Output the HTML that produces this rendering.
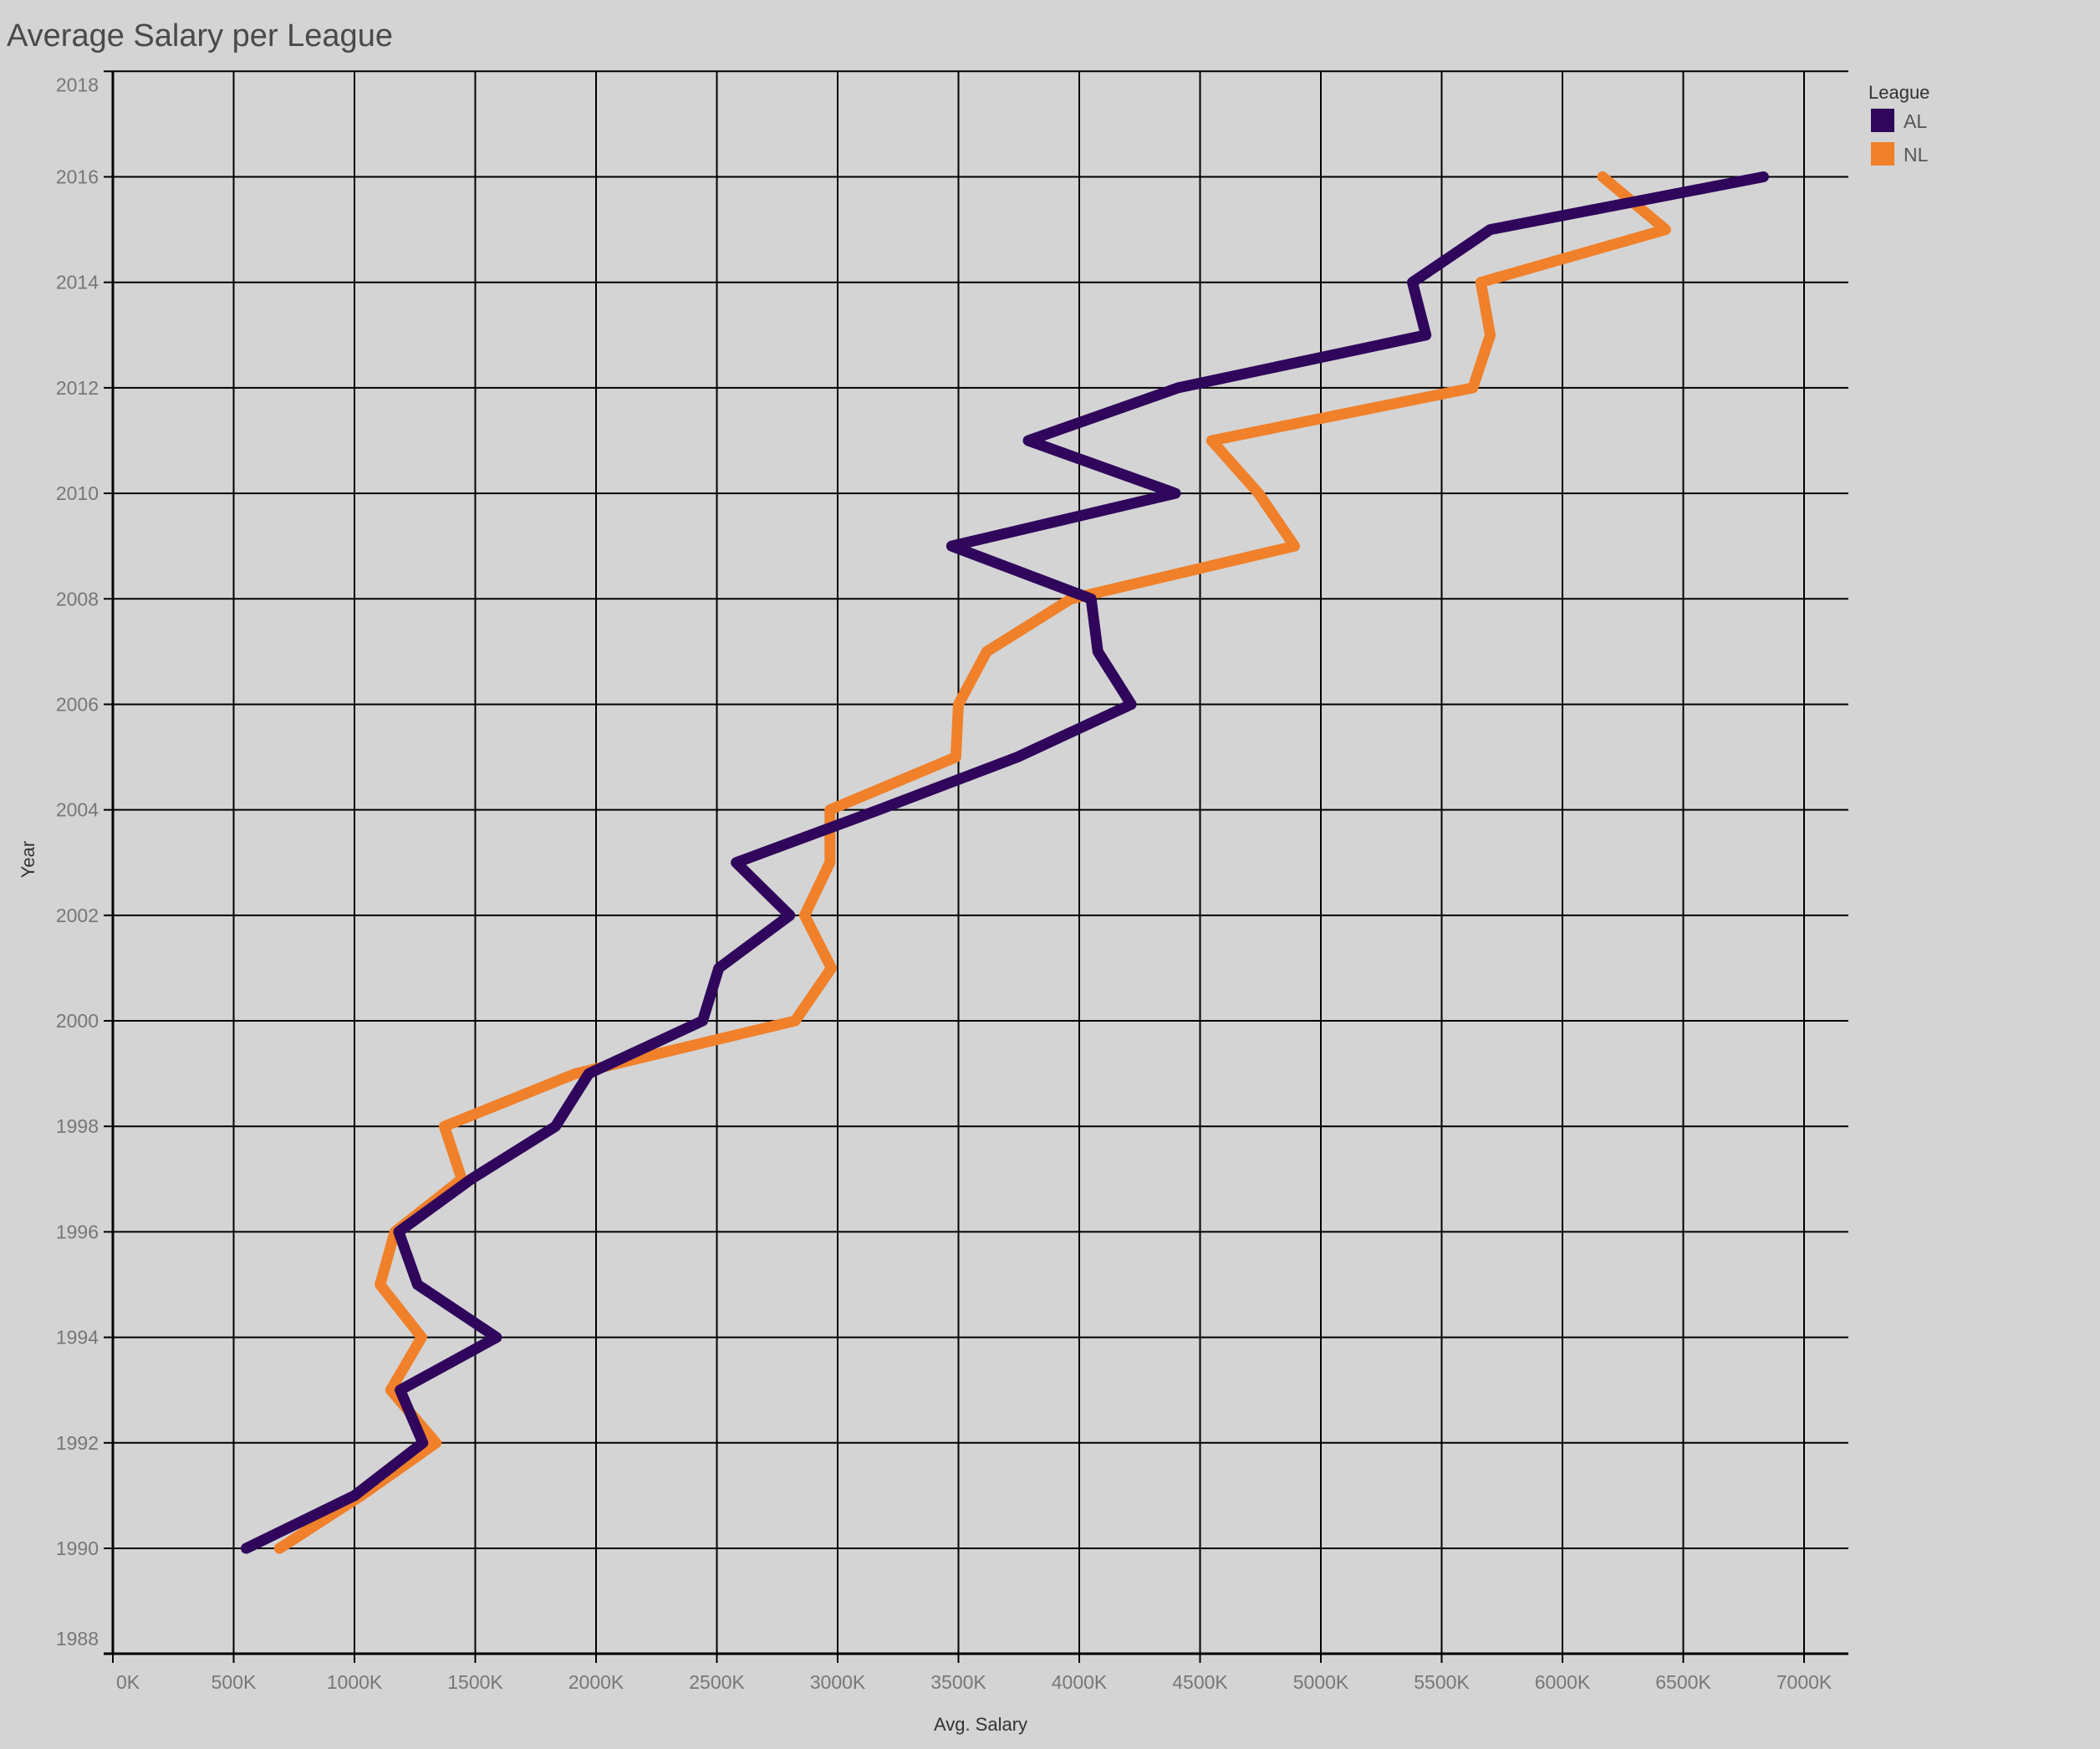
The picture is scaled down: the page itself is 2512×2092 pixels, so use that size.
<!DOCTYPE html>
<html><head><meta charset="utf-8"><style>
html,body{margin:0;padding:0;background:#d4d4d4;}
body{width:2512px;height:2092px;overflow:hidden;font-family:"Liberation Sans","DejaVu Sans",sans-serif;}
svg{position:absolute;left:0;top:0;}
</style></head><body>
<svg id="chart" width="2512" height="2092" xmlns="http://www.w3.org/2000/svg">
<text x="8" y="55" font-size="38" fill="#4a4a4a" font-family="Liberation Sans, sans-serif" font-weight="300">Average Salary per League</text>
<g id="grid"></g>
<g id="axes"></g>
<g id="lines"></g>
<text x="1173" y="2070" font-size="22" fill="#333" text-anchor="middle">Avg. Salary</text>
<text x="0" y="0" font-size="22" fill="#333" text-anchor="middle" transform="translate(41,1028) rotate(-90)">Year</text>
<g>
<text x="2235" y="118" font-size="22" fill="#333">League</text>
<rect x="2238" y="130" width="28" height="28" fill="#2f065c"/>
<text x="2277" y="153" font-size="23" fill="#555">AL</text>
<rect x="2238" y="170" width="28" height="28" fill="#f0802a"/>
<text x="2277" y="193" font-size="23" fill="#555">NL</text>
</g>
</svg>
<script>
const years=[1990,1991,1992,1993,1994,1995,1996,1997,1998,1999,2000,2001,2002,2003,2004,2005,2006,2007,2008,2009,2010,2011,2012,2013,2014,2015,2016];
const alSalary=[552,1000,1283,1189,1588,1261,1183,1483,1832,1970,2441,2508,2802,2580,3170,3744,4215,4077,4049,3472,4398,3789,4409,5435,5379,5701,6832];
const nlSalary=[690,1028,1338,1150,1278,1106,1167,1444,1372,1915,2824,2974,2863,2968,2968,3489,3500,3617,3966,4891,4742,4548,5629,5701,5662,6427,6166];
const xTicks=[0,500,1000,1500,2000,2500,3000,3500,4000,4500,5000,5500,6000,6500,7000];
const yTicks=[1988,1990,1992,1994,1996,1998,2000,2002,2004,2006,2008,2010,2012,2014,2016,2018];
const NS="http://www.w3.org/2000/svg";
const L=135,R=2211,T=85,B=1978;
function xs(v){return L+v*(2158-135)/7000;}
function ys(y){return 1852-(y-1990)*(1852-211.5)/26;}
function mk(tag,attrs,parent){const e=document.createElementNS(NS,tag);for(const k in attrs)e.setAttribute(k,attrs[k]);parent.appendChild(e);return e;}
const grid=document.getElementById('grid'),axes=document.getElementById('axes'),lines=document.getElementById('lines');
xTicks.forEach(v=>{
  const x=xs(v);
  const g=mk('line',{x1:x,x2:x,y1:T,y2:B,stroke:'#000','stroke-width':2},grid);
  
  
  const t=mk('line',{x1:x,x2:x,y1:B,y2:B+11,stroke:'#000','stroke-width':2},axes);
  
  
  const lb=mk('text',{x:x+(v===0?4:0),y:B+42,'font-size':23,fill:'#777','text-anchor':v===0?'start':'middle'},axes);
  lb.textContent=v+'K';
  
  
});
yTicks.forEach(v=>{
  const y=ys(v);
  if(v!==1988){
    const g=mk('line',{x1:L,x2:R,y1:y,y2:y,stroke:'#000','stroke-width':2},grid);
    
    
  }
  const t=mk('line',{x1:124,x2:L,y1:y,y2:y,stroke:'#000','stroke-width':2},axes);
  
  
  const lb=mk('text',{x:118,y:v===1988?y-10:(v===2018?y+24:y+8),'font-size':23,fill:'#777','text-anchor':'end'},axes);
  lb.textContent=v;
  
  
});
const ax=mk('line',{x1:L,x2:L,y1:T,y2:B,stroke:'#000','stroke-width':3},axes);


const bx=mk('line',{x1:124,x2:R,y1:B,y2:B,stroke:'#000','stroke-width':3},axes);


function series(vals,color,name){
  const pts=vals.map((v,i)=>xs(v)+','+ys(years[i])).join(' ');
  const p=mk('polyline',{points:pts,fill:'none',stroke:color,'stroke-width':13,'stroke-linejoin':'round','stroke-linecap':'round'},lines);
  
  
}
series(nlSalary,'#f0802a','nl-line');
series(alSalary,'#2f065c','al-line');
</script>
</body></html>
